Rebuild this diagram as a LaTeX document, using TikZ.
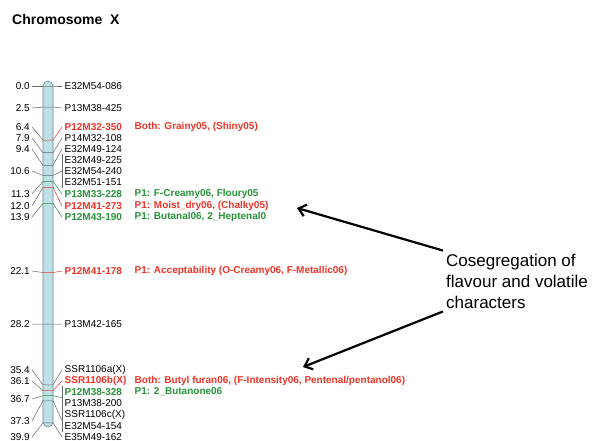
\documentclass[tikz,border=0pt]{standalone}
\usepackage{fontspec}
\setmainfont{Liberation Sans}
\usetikzlibrary{arrows.meta}
\definecolor{mapred}{RGB}{238,52,40}
\definecolor{mapgreen}{RGB}{40,146,58}
\definecolor{mapgray}{RGB}{105,105,105}
\definecolor{chromblue}{RGB}{190,225,232}
\definecolor{chromedge}{RGB}{110,135,140}
\tikzset{
  title/.style={anchor=west,inner sep=2pt,font=\bfseries\fontsize{14}{16}\selectfont},
  poslabel/.style={anchor=east,inner sep=2pt,font=\fontsize{10}{12}\selectfont},
  mk/.style={anchor=west,inner sep=2.5pt,font=\fontsize{10}{12}\selectfont},
  mkred/.style={mk,text=mapred,font=\bfseries\fontsize{10}{12}\selectfont},
  mkgreen/.style={mk,text=mapgreen,font=\bfseries\fontsize{10}{12}\selectfont},
  trait/.style={anchor=west,inner sep=2.5pt,font=\bfseries\fontsize{10}{12}\selectfont},
  link/.style={draw=mapgray,line width=0.5pt},
  chrom/.style={fill=chromblue,draw=chromedge,line width=0.6pt,rounded corners=5pt},
  note/.style={anchor=west,align=left,inner sep=3pt,font=\fontsize{17}{21}\selectfont},
  pointer/.style={line width=2.2pt,-{Straight Barb[length=7pt,width=12pt]}}
}
\begin{document}
\begin{tikzpicture}[x=1pt,y=-1pt]
  \useasboundingbox (0,0) rectangle (598,441);
  % Title
  \node[title] (head) at (10,19) {Chromosome~~X};
  % Chromosome body
  \draw[chrom] (43,81) rectangle (53,427);
  % Loci: position in cM / label y / connector end y / colour
  \foreach \cm/\ly/\ry/\col [count=\i] in {0.0/86/86/mapgray, 2.5/108/108/mapgray,
      6.4/127/127/mapred, 7.9/138/138/mapgray, 9.4/149/149/mapgray, 10.6/171/171/mapgray,
      11.3/194/194/mapgreen, 12.0/206/206/mapred, 13.9/217/217/mapgreen,
      22.1/271/271/mapred, 28.2/324/324/mapgray, 35.4/370/370/mapgray,
      36.1/381/381/mapred, 36.7/399/397.5/mapgreen, 37.3/421/420.5/mapgray,
      39.9/437/437/mapgray}
  {
    \pgfmathsetmacro\cy{86+8.44*\cm}
    \node[poslabel] (pos\i) at (32,\ly) {\cm};
    \coordinate (end\i) at (62,\ry);
    \draw[link] (pos\i.east) -- (43,\cy);
    \draw[link,draw=\col] (43,\cy) -- (53,\cy) -- (end\i);
  }
  % Marker names
  \foreach \y/\name/\st [count=\i] in {86/E32M54-086/mk, 108/P13M38-425/mk,
      127/P12M32-350/mkred, 138/P14M32-108/mk, 149/E32M49-124/mk,
      160/E32M49-225/mk, 171/E32M54-240/mk, 182/E32M51-151/mk,
      194/P13M33-228/mkgreen, 206/P12M41-273/mkred, 217/P12M43-190/mkgreen,
      271/P12M41-178/mkred, 324/P13M42-165/mk, 370/SSR1106a(X)/mk,
      381/SSR1106b(X)/mkred, 392/P12M38-328/mkgreen, 403/P13M38-200/mk,
      415/SSR1106c(X)/mk, 426/E32M54-154/mk, 437/E35M49-162/mk}
    \node[\st] (mk\i) at (62,\y) {\name};
  % Brackets for markers at one position
  \draw[link] (mk6.north west) -- (mk8.south west);
  \draw[link] (mk16.north west) -- (mk17.south west);
  \draw[link] (mk18.north west) -- (mk19.south west);
  % Traits
  \node[trait,text=mapred] (tr1) at (132,127) {Both: Grainy05, (Shiny05)};
  \node[trait,text=mapgreen] (tr2) at (132,194) {P1: F-Creamy06, Floury05};
  \node[trait,text=mapred] (tr3) at (132,206) {P1: Moist\_dry06, (Chalky05)};
  \node[trait,text=mapgreen] (tr4) at (132,217) {P1: Butanal06, 2\_Heptenal0};
  \node[trait,text=mapred] (tr5) at (132,271) {P1: Acceptability (O-Creamy06, F-Metallic06)};
  \node[trait,text=mapred] (tr6) at (132,381) {Both: Butyl furan06, (F-Intensity06, Pentenal/pentanol06)};
  \node[trait,text=mapgreen] (tr7) at (132,392) {P1: 2\_Butanone06};
  % Note with arrows
  \node[note] (note) at (443,281) {Cosegregation of\\flavour and volatile\\characters};
  \coordinate (tip1) at (297,208);
  \coordinate (tip2) at (303,367);
  \draw[pointer] (note.north west) -- (tip1);
  \draw[pointer] (note.south west) -- (tip2);
\end{tikzpicture}
\end{document}
